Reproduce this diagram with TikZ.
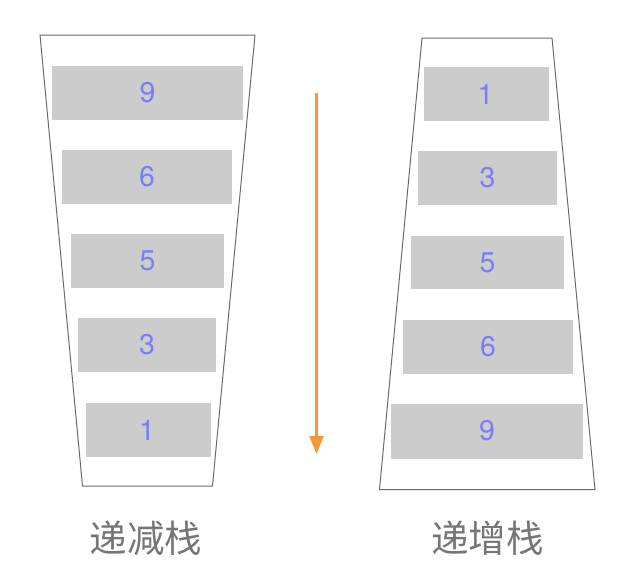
\documentclass[tikz,border=0pt]{standalone}
\usepackage{fontspec}
\setmainfont{Noto Sans CJK SC}
\newfontfamily\digitfont{TeX Gyre Heros}
\usetikzlibrary{arrows.meta}
\definecolor{boxgray}{HTML}{CCCCCC}
\definecolor{digitblue}{HTML}{7C7CF8}
\definecolor{labelgray}{HTML}{767676}
\definecolor{framegray}{HTML}{6A6A6A}
\definecolor{arroworange}{HTML}{F29A33}
\tikzset{
  frame/.style={draw=framegray, line width=1pt},
  item/.style={fill=boxgray, draw=none},
  digit/.style={text=digitblue, font=\digitfont\fontsize{28.5}{30}\selectfont, inner sep=0pt},
  title/.style={text=labelgray, font=\fontsize{37.5}{40}\selectfont, inner sep=0pt},
  flow/.style={draw=arroworange, line width=2.6pt, -{Triangle[length=18pt,width=14pt]}}
}
\begin{document}
\begin{tikzpicture}[x=1pt,y=-1pt]
\useasboundingbox (0,0) rectangle (634,576);
% left (decreasing) stack
\draw[frame] (40,35) -- (255,35) -- (212.5,486) -- (82.5,486) -- cycle;
\fill[item] (52,66) rectangle (243,120);
\node[digit] (l9) at (147.5,93) {9};
\fill[item] (62,150) rectangle (232,204);
\node[digit] (l6) at (147,177) {6};
\fill[item] (71,234) rectangle (224,288);
\node[digit] (l5) at (147.5,261) {5};
\fill[item] (78,318) rectangle (216,372);
\node[digit] (l3) at (147,345) {3};
\fill[item] (85.5,403) rectangle (210.5,457);
\node[digit] (l1) at (147,430) {1};
\node[title] (ltitle) at (146,538.5) {递减栈};
% arrow
\coordinate (atop) at (316.5,93);
\coordinate (abot) at (316.5,454);
\draw[flow] (atop) -- (abot);
% right (increasing) stack
\draw[frame] (422,38) -- (552,38) -- (595,489.5) -- (379.5,489.5) -- cycle;
\fill[item] (424,67) rectangle (549,121);
\node[digit] (r1) at (485.5,94) {1};
\fill[item] (418,151) rectangle (557,205);
\node[digit] (r3) at (487.5,178) {3};
\fill[item] (411,236) rectangle (564,289);
\node[digit] (r5) at (487.5,262.5) {5};
\fill[item] (403,320) rectangle (573,374);
\node[digit] (r6) at (488,347) {6};
\fill[item] (391,404) rectangle (583,458.5);
\node[digit] (r9) at (487,431) {9};
\node[title] (rtitle) at (487.5,538.5) {递增栈};
\end{tikzpicture}
\end{document}
